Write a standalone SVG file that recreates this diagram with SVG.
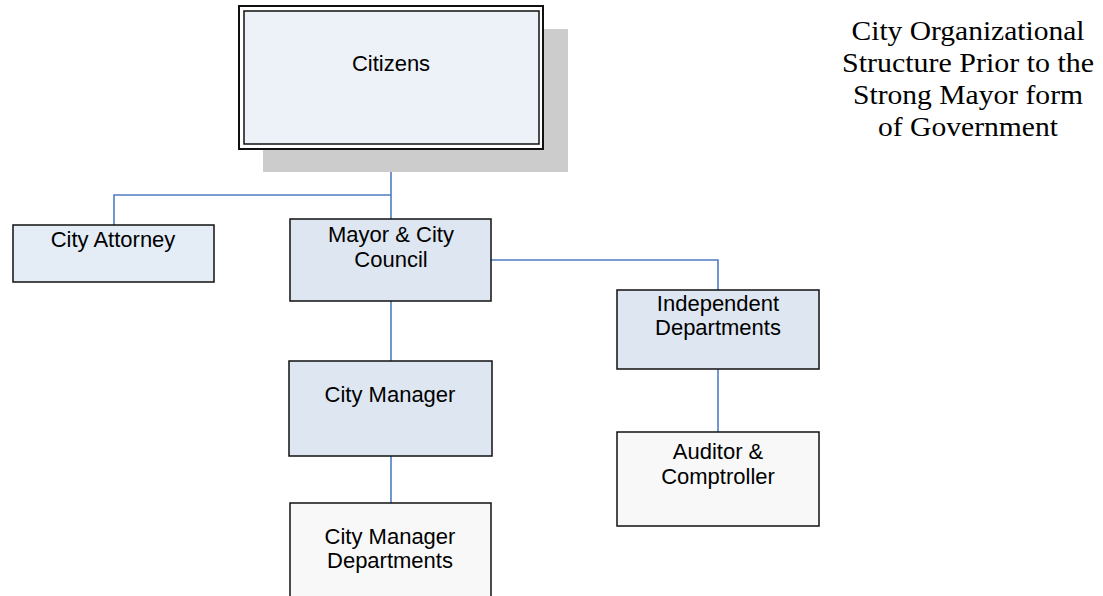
<svg xmlns="http://www.w3.org/2000/svg" width="1103" height="596" viewBox="0 0 1103 596">
<style>
.box{stroke:#111;stroke-width:1.5}
.blue{fill:#DEE6F1}
.grey{fill:#F8F8F8}
.lbl{font-family:"Liberation Sans",Arial,sans-serif;font-size:22px;fill:#000;text-anchor:middle}
.title{font-family:"Liberation Serif","Times New Roman",serif;font-size:28px;fill:#000;text-anchor:middle}
.conn{stroke:#4F7CC4;stroke-width:1.6;fill:none}
</style>
<rect width="1103" height="596" fill="#fff"/>
<g id="connectors">
<polyline class="conn" points="391,149 391,219"/>
<polyline class="conn" points="391,195 114,195 114,225"/>
<polyline class="conn" points="491,260 718,260 718,290"/>
<polyline class="conn" points="391,301 391,361"/>
<polyline class="conn" points="718,369 718,432"/>
<polyline class="conn" points="391,456 391,503"/>
</g>
<g id="citizens">
<rect x="263" y="29" width="305" height="143" fill="#CCCCCC"/>
<rect x="239" y="6" width="304" height="143" fill="#fff" stroke="#111" stroke-width="2"/>
<rect x="244" y="11" width="295" height="133" fill="#EDF1F8" stroke="#111" stroke-width="1.5"/>
<text class="lbl" x="391" y="71">Citizens</text>
</g>
<g id="city-attorney">
<rect class="box" x="13" y="225" width="201" height="57" fill="#E4ECF6"/>
<text class="lbl" x="113" y="247">City Attorney</text>
</g>
<g id="mayor-council">
<rect class="box blue" x="290" y="219" width="201" height="82"/>
<text class="lbl" x="391" y="242">Mayor &amp; City</text>
<text class="lbl" x="391" y="267">Council</text>
</g>
<g id="independent-departments">
<rect class="box blue" x="617" y="290" width="202" height="79"/>
<text class="lbl" x="718" y="311">Independent</text>
<text class="lbl" x="718" y="335">Departments</text>
</g>
<g id="auditor-comptroller">
<rect class="box grey" x="617" y="432" width="202" height="94"/>
<text class="lbl" x="718" y="459">Auditor &amp;</text>
<text class="lbl" x="718" y="484">Comptroller</text>
</g>
<g id="city-manager">
<rect class="box blue" x="289" y="361" width="203" height="95"/>
<text class="lbl" x="390" y="402">City Manager</text>
</g>
<g id="city-manager-departments">
<rect class="box grey" x="290" y="503" width="201" height="100"/>
<text class="lbl" x="390" y="544">City Manager</text>
<text class="lbl" x="390" y="568">Departments</text>
</g>
<g id="title">
<text class="title" x="968" y="40" textLength="233" lengthAdjust="spacingAndGlyphs">City Organizational</text>
<text class="title" x="968" y="72" textLength="252" lengthAdjust="spacingAndGlyphs">Structure Prior to the</text>
<text class="title" x="968" y="104" textLength="230" lengthAdjust="spacingAndGlyphs">Strong Mayor form</text>
<text class="title" x="968" y="136" textLength="180" lengthAdjust="spacingAndGlyphs">of Government</text>
</g>
</svg>
